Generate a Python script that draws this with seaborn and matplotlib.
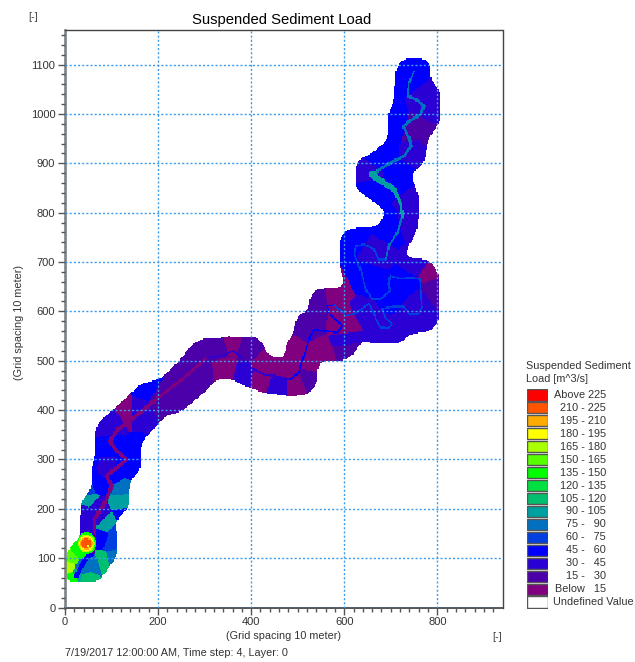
import numpy as np
import pandas as pd
import matplotlib
matplotlib.use("Agg")
import matplotlib.pyplot as plt
import seaborn as sns
from matplotlib.colors import ListedColormap
from matplotlib.path import Path

# ==========================
# Data
# ==========================

# model domain outline [grid units]
outline_x = [0, 73, 93, 112, 112, 105, 138, 139, 163, 163, 200, 218, 246, 254, 315, 319, 365, 373, 398,
             423, 455, 484, 524, 542, 544, 599, 621, 632, 638, 659, 720, 741, 787, 802, 802, 781, 727,
             739, 757, 761, 750, 739, 771, 779, 804, 806, 786, 786, 771, 725, 711, 707, 694, 694, 654,
             632, 625, 625, 668, 691, 671, 643, 604, 589, 589, 606, 600, 536, 525, 524, 499, 490, 475,
             473, 459, 430, 432, 415, 347, 329, 297, 268, 250, 204, 161, 132, 104, 71, 66, 66, 57, 57,
             36, 32, 32, 11, 0]
outline_y = [52, 52, 81, 104, 152, 172, 205, 260, 276, 334, 371, 391, 395, 400, 449, 463, 463, 452, 447,
             435, 432, 428, 432, 455, 499, 501, 513, 536, 543, 534, 534, 554, 561, 578, 678, 705, 709,
             733, 766, 827, 861, 878, 898, 948, 982, 1049, 1066, 1103, 1112, 1112, 1090, 1022, 1002, 948, 915,
             911, 894, 847, 820, 801, 770, 770, 766, 746, 692, 645, 648, 645, 625, 599, 594, 550, 536,
             503, 504, 513, 526, 547, 549, 543, 545, 530, 503, 462, 452, 425, 401, 374, 357, 303, 287, 239,
             216, 158, 138, 125, 98]

# load zones: location and value [m^3/s]
zone_x = [7, 12, 20, 30, 46, 79, 61, 39, 25, 93, 97, 104, 79, 40, 46, 54, 71, 121, 120, 50, 130, 150,
          90, 90, 100, 130, 85, 160, 175, 204, 254, 254, 297, 283, 326, 362, 391, 340, 383, 419, 435, 470,
          455, 499, 527, 535, 484, 506, 543, 578, 615, 621, 640, 660, 741, 684, 620, 781, 791, 734, 648,
          663, 700, 760, 729, 707, 671, 764, 643, 650, 721, 746, 743, 693, 621, 779, 757, 779,
          50, 125, 65, 760, 50, 110, 108, 75]
zone_y = [83, 100, 60, 115, 57, 96, 90, 80, 63, 170, 130, 103, 137, 165, 192, 216, 250, 212, 245, 270,
          280, 310, 280, 330, 380, 400, 365, 400, 442, 422, 469, 435, 469, 520, 530, 540, 533, 476, 462,
          455, 486, 489, 445, 445, 455, 503, 530, 570, 631, 635, 577, 530, 590, 540, 571, 554, 538, 680,
          645, 652, 672, 719, 640, 620, 1083, 982, 921, 928, 881, 847, 861, 827, 787, 773, 746, 948, 968,
          1016, 240, 190, 205, 695, 300, 265, 155, 190]
zone_load = [172, 160, 135, 140, 115, 105, 75, 80, 95, 95, 70, 75, 45, 40, 30, 100, 55, 95, 75, 50,
             50, 50, 40, 45, 30, 12, 40, 35, 50, 28, 15, 28, 25, 25, 25, 8, 28, 8, 35, 8, 10, 12,
             30, 10, 28, 10, 10, 28, 28, 10, 8, 25, 30, 30, 30, 30, 35, 10, 25, 50, 50,
             40, 50, 35, 52, 50, 50, 30, 40, 50, 52, 35, 35, 50, 45, 18, 15, 38,
             70, 50, 40, 38, 50, 50, 65, 40]

# hot spot near the lower left, largest first
spot_x = [46, 46, 46, 46, 46, 50]
spot_y = [130, 130, 130, 130, 130, 125]
spot_r = [22, 18, 15, 13, 10, 3]
spot_load = [135, 165, 185, 200, 215, 190]

# river channel, one list per stretch
lower_x = [25, 43, 61, 64, 64, 89, 100, 89, 132, 111, 96, 114, 139, 175, 204, 247, 276, 304]
lower_y = [64, 98, 111, 152, 179, 219, 246, 266, 300, 317, 337, 361, 378, 405, 428, 459, 482, 506]
lower_load = [50, 50, 25, 12, 12, 12, 10, 10, 10, 7, 7, 7, 7, 7, 7, 7, 10, 20]
lower_width = [5, 5, 4, 4, 4, 4, 4, 4, 4, 4, 4, 4, 4, 4, 3, 3, 3, 2]
mid_x = [304, 333, 362, 376, 394, 427, 455, 484, 502, 513, 527, 534, 560, 585, 596, 570, 563, 578, 599,
         603, 621, 642, 653, 663, 667, 678, 695, 702, 688, 681, 706, 727, 742, 759, 767, 764, 763, 745,
         720, 699, 695, 699, 678, 660, 646, 635, 621, 624, 642, 663, 674, 688, 691]
mid_y = [506, 509, 520, 509, 489, 472, 469, 462, 476, 509, 550, 563, 560, 557, 570, 594, 611, 612, 597,
         591, 595, 608, 615, 598, 585, 568, 566, 574, 588, 605, 610, 610, 595, 595, 608, 645, 665, 668,
         666, 672, 655, 642, 625, 625, 645, 685, 715, 732, 736, 726, 705, 705, 709]
mid_load = [35, 35, 40, 40, 40, 40, 40, 50, 50, 50, 55, 55, 55, 55, 55, 55, 55, 60, 60,
            65, 70, 70, 70, 70, 70, 70, 70, 70, 70, 70, 70, 70, 70, 70, 70, 70, 70, 70,
            70, 70, 70, 70, 70, 70, 70, 70, 70, 70, 70, 70, 70, 75, 80]
upper_x = [691, 696, 714, 725, 721, 707, 679, 659, 671, 693, 729, 744, 739, 727, 739, 764, 771, 757, 737,
           739, 750]
upper_y = [709, 733, 760, 793, 820, 847, 864, 878, 884, 898, 915, 935, 952, 974, 985, 999, 1016, 1028, 1036,
           1063, 1087]
upper_load = [80, 80, 85, 95, 98, 98, 98, 90, 85, 85, 85, 88, 88, 88, 88, 88, 88, 85, 85, 80, 80]
upper_width = [2, 2, 3, 3, 4, 6, 7, 4, 3, 3, 3, 3, 3, 3, 3, 3, 3, 3, 2, 2, 2]

legend_labels = ["Above 225", "210 - 225", "195 - 210", "180 - 195", "165 - 180", "150 - 165",
                 "135 - 150", "120 - 135", "105 - 120", "90 - 105", "75 -   90", "60 -   75",
                 "45 -   60", "30 -   45", "15 -   30", "Below   15", "Undefined Value"]
legend_colors = ["#ff0000", "#ff5500", "#ffaa00", "#ffff00", "#aaff00", "#55ff00", "#00ff00", "#00e040",
                 "#00c070", "#00a0a0", "#0070c0", "#0040e0", "#0000ff", "#2a00d5", "#4b00aa", "#800080",
                 "#ffffff"]

xticks = [0, 200, 400, 600, 800]
yticks = [0, 100, 200, 300, 400, 500, 600, 700, 800, 900, 1000, 1100]
xmax = 940
ymax = 1170
cell = 2.5

# ==========================
# Grid the load field
# ==========================

ny = int(ymax / cell)
nx = int(xmax / cell)
gx, gy = np.meshgrid((np.arange(nx) + 0.5) * cell, (np.arange(ny) + 0.5) * cell)
pts = np.column_stack([gx.ravel(), gy.ravel()])

mask = Path(np.column_stack([outline_x, outline_y])).contains_points(pts).reshape(ny, nx)

# round off the corners of the outline
box = np.ones(9) / 9
soft = mask.astype(float)
for _ in range(2):
    soft = np.apply_along_axis(lambda r: np.convolve(r, box, mode="same"), 0, soft)
    soft = np.apply_along_axis(lambda r: np.convolve(r, box, mode="same"), 1, soft)
mask = soft >= 0.48

zx = np.array(zone_x)[:, None, None]
zy = np.array(zone_y)[:, None, None]
nearest = ((gx - zx) ** 2 + (gy - zy) ** 2).argmin(axis=0)
field = np.array(zone_load, dtype=float)[nearest]


def burn_river(xs, ys, loads, widths):
    for i in range(len(xs) - 1):
        ax_, ay_ = xs[i], ys[i]
        dx, dy = xs[i + 1] - ax_, ys[i + 1] - ay_
        t = np.clip(((gx - ax_) * dx + (gy - ay_) * dy) / (dx * dx + dy * dy), 0, 1)
        dist = np.hypot(gx - ax_ - t * dx, gy - ay_ - t * dy)
        field[dist <= widths[i]] = loads[i]


burn_river(lower_x, lower_y, lower_load, lower_width)
burn_river(mid_x, mid_y, mid_load, [2] * len(mid_x))
burn_river(upper_x, upper_y, upper_load, upper_width)

for x, y, r, load in zip(spot_x, spot_y, spot_r, spot_load):
    field[(gx - x) ** 2 + (gy - y) ** 2 <= r ** 2] = load

# class 0 is "Below 15", one class every 15 m^3/s
classes = np.clip(np.floor(field / 15), 0, 15)
classes[~mask] = np.nan
df = pd.DataFrame(classes)

# ==========================
# Plot
# ==========================

sns.set_theme(style="white")
plt.rcParams["font.family"] = ["Liberation Sans", "DejaVu Sans"]

W, H = 635, 662
fig = plt.figure(figsize=(W / 100, H / 100), dpi=100)
ax = fig.add_axes([65 / W, 1 - 607.5 / H, 437.5 / W, 577.5 / H])

cmap = ListedColormap(legend_colors[:16][::-1])
sns.heatmap(df, ax=ax, cmap=cmap, vmin=0, vmax=16, cbar=False, xticklabels=False, yticklabels=False)
ax.set_xlim(0, nx)
ax.set_ylim(0, ny)

ax.set_xticks([v / cell for v in xticks])
ax.set_xticklabels([str(v) for v in xticks], rotation=0)
ax.set_yticks([v / cell for v in yticks])
ax.set_yticklabels([str(v) for v in yticks], rotation=0)
ax.set_xticks(np.arange(0, xmax, 20) / cell, minor=True)
ax.set_yticks(np.arange(0, ymax, 20) / cell, minor=True)
ax.tick_params(axis="both", which="major", length=5, width=1, color="#555555", labelsize=8,
               labelcolor="#333333", pad=2, bottom=True, left=True)
ax.tick_params(axis="both", which="minor", length=3, width=1, color="#555555", bottom=True, left=True)

ax.set_axisbelow(False)
ax.grid(True, which="major", color="#3d9be9", linestyle=(0, (1.5, 1.5)), linewidth=1)

for side in ax.spines:
    ax.spines[side].set_visible(True)
    ax.spines[side].set_color("#444444")
    ax.spines[side].set_linewidth(1)
ax.spines["left"].set_color("#777777")
ax.spines["left"].set_linewidth(1.8)
ax.spines["bottom"].set_color("#555555")
ax.spines["bottom"].set_linewidth(1.4)

# ==========================
# Text
# ==========================

txt = "#333333"
fig.text(282 / W, 1 - 20 / H, "Suspended Sediment Load", ha="center", va="center", fontsize=10.7, color="black")
fig.text(33 / W, 1 - 17 / H, "[-]", ha="center", va="center", fontsize=7.8, color=txt)
fig.text(497 / W, 1 - 637 / H, "[-]", ha="center", va="center", fontsize=7.8, color=txt)
fig.text(284 / W, 1 - 636 / H, "(Grid spacing 10 meter)", ha="center", va="center", fontsize=7.8, color=txt)
fig.text(19 / W, 1 - 322 / H, "(Grid spacing 10 meter)", ha="center", va="center", rotation=90, fontsize=7.8,
         color=txt)
fig.text(65 / W, 1 - 653 / H, "7/19/2017 12:00:00 AM, Time step: 4, Layer: 0", ha="left", va="center",
         fontsize=7.8, color=txt)
fig.text(526 / W, 1 - 366 / H, "Suspended Sediment", ha="left", va="center", fontsize=7.8, color=txt)
fig.text(526 / W, 1 - 379 / H, "Load [m^3/s]", ha="left", va="center", fontsize=7.8, color=txt)

# ==========================
# Legend
# ==========================

lax = fig.add_axes([526.5 / W, 1 - 608.5 / H, 21.5 / W, 220 / H])
rows = np.arange(len(legend_labels))
lax.barh(rows, 1, height=0.86, left=0, color=legend_colors, edgecolor="#555555", linewidth=1)
lax.set_xlim(0, 1)
lax.set_ylim(len(legend_labels) - 0.5, -0.5)
lax.axis("off")

for row, label in zip(rows, legend_labels):
    if label.startswith("Undefined"):
        lax.annotate(label, (1, row), xytext=(5, 0), textcoords="offset pixels", ha="left", va="center",
                     fontsize=7.8, color=txt, annotation_clip=False)
    else:
        lax.annotate(label, (1, row), xytext=(58, 0), textcoords="offset pixels", ha="right", va="center",
                     fontsize=7.8, color=txt, annotation_clip=False)

fig.savefig("out.png", dpi=100)
